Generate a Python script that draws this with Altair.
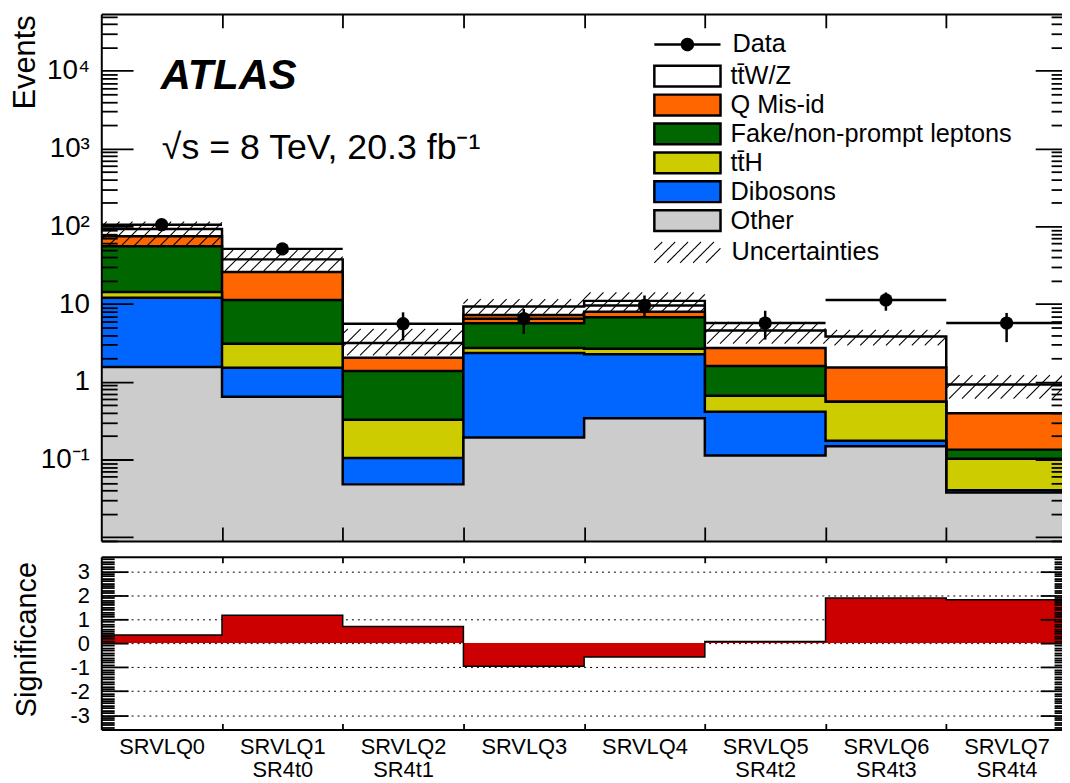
import math
import altair as alt
import pandas as pd

# ---------------- data ----------------
regions_line1 = ["SRVLQ0", "SRVLQ1", "SRVLQ2", "SRVLQ3", "SRVLQ4", "SRVLQ5", "SRVLQ6", "SRVLQ7"]
regions_line2 = ["", "SR4t0", "SR4t1", "", "", "SR4t2", "SR4t3", "SR4t4"]

legend_names = ["tt\u0304W/Z", "Q Mis-id", "Fake/non-prompt leptons", "tt\u0304H", "Dibosons", "Other"]
legend_colors = ["#ffffff", "#ff6600", "#006600", "#cccc00", "#0066ff", "#cccccc"]

# per-region contributions (events)
other    = [1.55, 0.644, 0.048, 0.193, 0.341, 0.113, 0.148, 0.0376]
dibosons = [10.5, 0.87, 0.057, 2.16, 1.92, 0.30, 0.027, 0.0027]
tth      = [2.3, 1.58, 0.22, 0.37, 0.41, 0.25, 0.38, 0.062]
fake     = [41.2, 8.2, 1.05, 2.94, 4.09, 0.94, 0.0, 0.032]
qmisid   = [19.0, 14.6, 0.66, 1.59, 1.23, 1.12, 0.97, 0.26]
ttwz     = [17.8, 11.7, 1.12, 2.08, 3.01, 1.85, 2.30, 0.53]

data_obs = [105, 51.3, 5.6, 6.5, 9.6, 5.7, 11.3, 5.7]
data_lo  = [95, 44, 3.41, 4.15, 6.8, 3.5, 8.22, 3.24]
data_hi  = [115, 59, 7.83, 8.65, 12.9, 8.2, 14.1, 7.69]

unc_lo = [57, 26.7, 2.19, 7.47, 7.83, 3.1, 2.94, 0.61]
unc_hi = [115, 49.4, 4.81, 11.6, 14.1, 5.9, 4.67, 1.22]

significance = [0.34, 1.16, 0.69, -0.96, -0.58, 0.07, 1.88, 1.81]

# ---------------- geometry / style ----------------
FONT = "Liberation Sans"
W, H = 968, 721          # view (clipped at the right like the reference)
XR = 973                 # x range: right frame falls just outside the picture
TOP_H = 531              # top panel height
BOT_TOP = 547            # y of the lower panel top edge
YMIN, YMAX = 0.009, 54000
NB = len(regions_line1)

BIN_PX = XR / NB
DEC_PX = TOP_H / (math.log10(YMAX) - math.log10(YMIN))

xscale = alt.Scale(domain=[0, NB], range=[0, XR], nice=False, zero=False)
ytop = alt.Scale(type="log", domain=[YMIN, YMAX], range=[TOP_H, 0], nice=False)
ybot = alt.Scale(domain=[-3.6, 3.6], range=[H, BOT_TOP], nice=False, zero=False)

# ---------------- tables ----------------
stack_bottom_up = [("Other", other), ("Dibosons", dibosons), (legend_names[3], tth),
                   (legend_names[2], fake), ("Q Mis-id", qmisid), (legend_names[0], ttwz)]
rows, cum = [], [0.0] * NB
for name, vals in stack_bottom_up:
    cum = [c + v for c, v in zip(cum, vals)]
    for i in range(NB + 1):
        rows.append({"comp": name, "x": i, "top": cum[min(i, NB - 1)], "base": YMIN})
stack_df = pd.DataFrame(rows)

# hatch texture for the uncertainty band (45 deg lines, fixed pixel spacing)
S = 13.0
seg = []
for i in range(NB):
    u0, u1 = i * BIN_PX, (i + 1) * BIN_PX
    v0, v1 = math.log10(unc_lo[i]) * DEC_PX, math.log10(unc_hi[i]) * DEC_PX
    for k in range(math.floor((u0 - v1) / S) - 1, math.ceil((u1 - v0) / S) + 2):
        c = k * S
        ua, ub = max(u0, v0 + c), min(u1, v1 + c)
        if ub - ua > 0.6:
            seg.append({"x": ua / BIN_PX, "x2": ub / BIN_PX,
                        "y": 10 ** ((ua - c) / DEC_PX), "y2": 10 ** ((ub - c) / DEC_PX)})
hatch_df = pd.DataFrame(seg)

data_df = pd.DataFrame({"xc": [i + 0.5 for i in range(NB)], "x0": list(range(NB)),
                        "x1": [i + 1 for i in range(NB)], "n": data_obs,
                        "lo": data_lo, "hi": data_hi})

sig_df = pd.DataFrame({"x": list(range(NB + 1)),
                       "s": [significance[min(i, NB - 1)] for i in range(NB + 1)],
                       "zero": [0.0] * (NB + 1)})

axis_df = pd.DataFrame({"x": [0.5], "yt": [1.0], "yb": [0.0], "lab": ["x"]})

# ---------------- legend symbols ----------------
BOX_PATH = "M-1,-1H5.35V1H-1Z"
DATA_PATH = ("M-1,-0.12H1.6V0.12H-1Z M2.75,-0.12H5.35V0.12H2.75Z "
             "M2.825,0A0.65,0.65,0,1,1,1.525,0A0.65,0.65,0,1,1,2.825,0Z")
HATCH_PATH = ("M-1,-0.24L-0.24,-1M-1,1L1,-1M0.24,1L2.24,-1M1.48,1L3.48,-1"
              "M2.72,1L4.72,-1M3.96,1L5.35,-0.39")
LEG_X = 555
LEG_FS = 25.5

fill_enc = alt.Fill("comp:N", scale=alt.Scale(domain=legend_names, range=legend_colors),
                    legend=alt.Legend(title=None, orient="none", legendX=LEG_X, legendY=50,
                                      symbolType=BOX_PATH, symbolSize=441,
                                      symbolStrokeColor="black", symbolStrokeWidth=2.5,
                                      symbolOpacity=1, labelFont=FONT, labelFontSize=LEG_FS,
                                      labelColor="black", labelOffset=53.5, rowPadding=-2.9,
                                      padding=0, labelLimit=500))

layers = []

# grid of the lower panel (behind everything)
layers.append(alt.Chart(axis_df).mark_point(opacity=0).encode(
    y=alt.Y("yb:Q", scale=ybot, axis=alt.Axis(orient="left", values=[-3, -2, -1, 0, 1, 2, 3],
            grid=True, gridDash=[2, 4], gridColor="black", gridWidth=1, gridOpacity=1,
            labels=False, ticks=False, domain=False, title=None, zindex=0))))

for name, _ in reversed(stack_bottom_up):
    base = alt.Chart(stack_df).transform_filter(alt.datum.comp == name)
    layers.append(base.mark_area(interpolate="step-after", clip=True, opacity=1).encode(
        x=alt.X("x:Q", scale=xscale, axis=None),
        y=alt.Y("top:Q", scale=ytop, axis=None, stack=None),
        y2="base:Q", fill=fill_enc))
    layers.append(base.mark_line(interpolate="step-after", clip=True, color="black",
                                 strokeWidth=2.5).encode(
        x=alt.X("x:Q", scale=xscale, axis=None),
        y=alt.Y("top:Q", scale=ytop, axis=None)))

# uncertainty hatch
layers.append(alt.Chart(hatch_df).mark_rule(color="black", strokeWidth=1.1, clip=True).encode(
    x=alt.X("x:Q", scale=xscale, axis=None), x2="x2:Q",
    y=alt.Y("y:Q", scale=ytop, axis=None), y2="y2:Q"))

# data
layers.append(alt.Chart(data_df).mark_rule(color="black", strokeWidth=2.5, clip=True).encode(
    x=alt.X("x0:Q", scale=xscale, axis=None), x2="x1:Q",
    y=alt.Y("n:Q", scale=ytop, axis=None)))
layers.append(alt.Chart(data_df).mark_rule(color="black", strokeWidth=2.5, clip=True).encode(
    x=alt.X("xc:Q", scale=xscale, axis=None),
    y=alt.Y("lo:Q", scale=ytop, axis=None), y2="hi:Q"))
layers.append(alt.Chart(data_df).mark_circle(color="black", opacity=1, size=180).encode(
    x=alt.X("xc:Q", scale=xscale, axis=None),
    y=alt.Y("n:Q", scale=ytop, axis=None)))

# significance
layers.append(alt.Chart(sig_df).mark_area(interpolate="step-after", color="#cc0000",
                                          opacity=1, clip=True).encode(
    x=alt.X("x:Q", scale=xscale, axis=None),
    y=alt.Y("s:Q", scale=ybot, axis=None, stack=None), y2="zero:Q"))
layers.append(alt.Chart(sig_df).mark_line(interpolate="step-after", color="black",
                                          strokeWidth=1.5, clip=True).encode(
    x=alt.X("x:Q", scale=xscale, axis=None),
    y=alt.Y("s:Q", scale=ybot, axis=None)))

# annotations
layers.append(alt.Chart(axis_df).mark_text(text="ATLAS", font=FONT, fontSize=42, fontStyle="italic",
                                           fontWeight="bold", align="left", baseline="alphabetic",
                                           color="black").encode(x=alt.value(60), y=alt.value(76)))
layers.append(alt.Chart(axis_df).mark_text(text="\u221As = 8 TeV, 20.3 fb\u207b\u00b9", font=FONT,
                                           fontSize=36, align="left", baseline="alphabetic",
                                           color="black").encode(x=alt.value(61), y=alt.value(146)))

# legend-only layers
layers.append(alt.Chart(axis_df).transform_filter("false").mark_point(filled=True, color="black").encode(
    shape=alt.Shape("lab:N", scale=alt.Scale(domain=["Data"], range=[DATA_PATH]),
                    legend=alt.Legend(title=None, orient="none", legendX=LEG_X, legendY=18,
                                      symbolSize=441, symbolFillColor="black",
                                      symbolStrokeColor="black", symbolStrokeWidth=0,
                                      symbolOpacity=1, labelFont=FONT, labelFontSize=LEG_FS,
                                      labelColor="black", labelOffset=55.5, padding=0))))
layers.append(alt.Chart(axis_df).transform_filter("false").mark_point(color="black").encode(
    strokeDash=alt.StrokeDash("lab:N", scale=alt.Scale(domain=["Uncertainties"], range=[[1, 0]]),
                              legend=alt.Legend(title=None, orient="none", legendX=LEG_X, legendY=227.5,
                                                symbolType=HATCH_PATH, symbolSize=441,
                                                symbolFillColor="transparent",
                                                symbolStrokeColor="black", symbolStrokeWidth=1.1,
                                                symbolOpacity=1, labelFont=FONT, labelFontSize=LEG_FS,
                                                labelColor="black", labelOffset=54.5, padding=0))))

# ---------------- axes ----------------
def yax(scale, field, **kw):
    base_kw = dict(grid=False, title=None, labels=False, domain=False, tickColor="black",
                   tickWidth=1.8, zindex=1)
    base_kw.update(kw)
    return alt.Chart(axis_df).mark_point(opacity=0).encode(
        y=alt.Y(field, scale=scale, axis=alt.Axis(**base_kw)))

def xax(**kw):
    base_kw = dict(grid=False, title=None, labels=False, domain=False, tickColor="black",
                   tickWidth=1.8, zindex=1)
    base_kw.update(kw)
    return alt.Chart(axis_df).mark_point(opacity=0).encode(
        x=alt.X("x:Q", scale=xscale, axis=alt.Axis(**base_kw)))

log_label_vals = [0.1, 1, 10, 100, 1000, 10000]
log_label_expr = ("datum.value > 5000 ? '10\u2074' : datum.value > 500 ? '10\u00b3' : "
                  "datum.value > 50 ? '10\u00b2' : datum.value > 5 ? '10' : "
                  "datum.value > 0.5 ? '1' : '10\u207b\u00b9'")
majors = [0.01, 0.1, 1, 10, 100, 1000, 10000]
minors = [m * 10 ** k for k in range(-3, 5) for m in range(2, 10) if YMIN <= m * 10 ** k <= YMAX]

layers.append(yax(ytop, "yt:Q", orient="left", values=log_label_vals, labelExpr=log_label_expr,
                  labels=True, ticks=False, tickSize=0, domain=True, domainColor="black",
                  domainWidth=2, labelFont=FONT, labelFontSize=28, labelColor="black",
                  labelPadding=12, labelFlush=False, labelOverlap=False,
                  title="Events", titleFont=FONT, titleFontSize=31, titleFontWeight="normal",
                  titleColor="black", titleAngle=270, titleAlign="right",
                  titleBaseline="alphabetic", titleX=-67, titleY=1))
layers.append(yax(ytop, "yt:Q", orient="right", offset=-W, values=majors, tickSize=32))
layers.append(yax(ytop, "yt:Q", orient="right", offset=-W, values=minors, tickSize=16))
layers.append(yax(ytop, "yt:Q", orient="left", offset=-XR, values=majors, tickSize=32))
layers.append(yax(ytop, "yt:Q", orient="left", offset=-XR, values=minors, tickSize=16))

sig_major = [-3, -2, -1, 0, 1, 2, 3]
sig_minor = [round(v / 10, 1) for v in range(-35, 36) if v % 10 != 0]
layers.append(yax(ybot, "yb:Q", orient="left", values=sig_major, labelExpr="'' + datum.value",
                  labels=True, ticks=False, tickSize=0, domain=True, domainColor="black",
                  domainWidth=2, labelFont=FONT, labelFontSize=22, labelColor="black",
                  labelPadding=12, labelFlush=False, labelOverlap=False,
                  title="Significance", titleFont=FONT, titleFontSize=29,
                  titleFontWeight="normal", titleColor="black", titleAngle=270,
                  titleAlign="center", titleBaseline="alphabetic", titleX=-66, titleY=630))
layers.append(yax(ybot, "yb:Q", orient="right", offset=-W, values=sig_major, tickSize=27))
layers.append(yax(ybot, "yb:Q", orient="right", offset=-W, values=sig_minor, tickSize=13))
layers.append(yax(ybot, "yb:Q", orient="left", offset=-XR, values=sig_major, tickSize=27))
layers.append(yax(ybot, "yb:Q", orient="left", offset=-XR, values=sig_minor, tickSize=13))

edges = list(range(1, NB))
frame = dict(domain=True, domainColor="black", domainWidth=2)
layers.append(xax(orient="bottom", offset=-H, values=edges, tickSize=14, **frame))
layers.append(xax(orient="top", offset=-TOP_H, values=edges, tickSize=14, **frame))
layers.append(xax(orient="bottom", offset=-(H - BOT_TOP), values=edges, tickSize=6, **frame))
layers.append(xax(orient="top", offset=-H, values=edges, tickSize=6, **frame))

label_arr = "[" + ",".join(
    "[" + ",".join("'" + t + "'" for t in ([a] + ([b] if b else []))) + "]"
    for a, b in zip(regions_line1, regions_line2)) + "]"
layers.append(xax(orient="bottom", values=[i + 0.5 for i in range(NB)],
                  labelExpr=label_arr + "[floor(datum.value)]", labels=True, ticks=False,
                  tickSize=0, labelFont=FONT, labelFontSize=22, labelColor="black",
                  labelPadding=7, labelLineHeight=23, labelFlush=False, labelOverlap=False))

chart = alt.layer(*layers).resolve_scale(y="independent").resolve_axis(
    x="independent", y="independent").properties(
    width=W, height=H, autosize=alt.AutoSizeParams(type="none"),
    padding={"left": 94, "top": 3, "right": 0, "bottom": 51},
    background="white").configure(font=FONT).configure_view(stroke=None)

chart.save("out.html", embed_options={"renderer": "svg", "actions": False})
